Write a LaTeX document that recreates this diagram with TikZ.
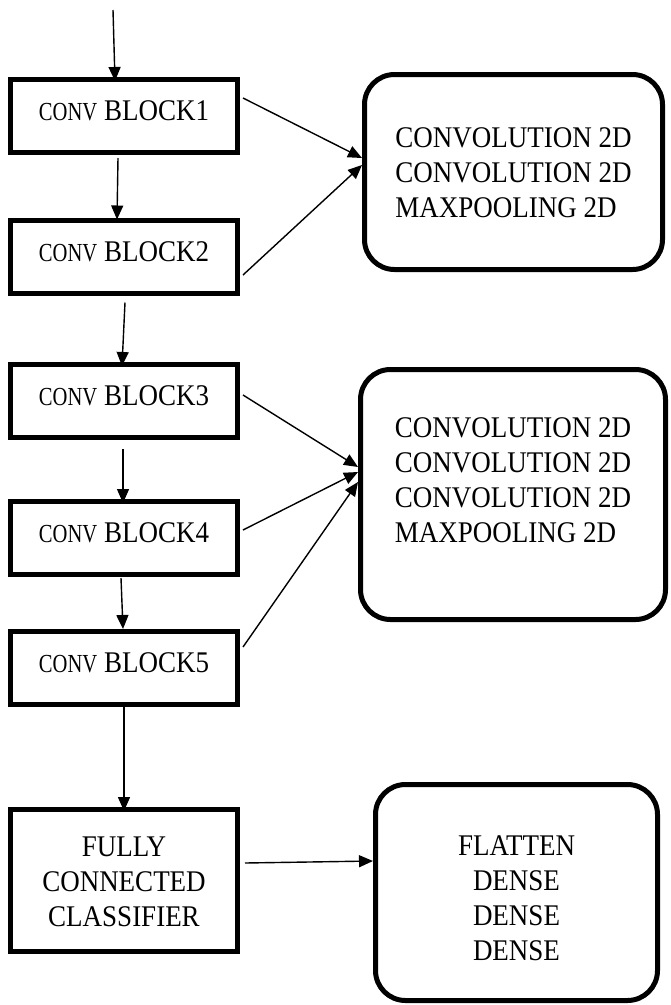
\documentclass[tikz,border=0pt]{standalone}
\usepackage{fontspec}
\setmainfont{Liberation Serif}[FakeStretch=0.9]
\usetikzlibrary{arrows.meta}
\newcommand{\sconv}{\scalebox{0.88}[1]{\fontsize{26}{35}\selectfont CONV}}
\newcommand{\lift}[2]{\raisebox{#1}[\height][\depth]{#2}}
\begin{document}
\begin{tikzpicture}[x=1pt,y=-1pt,
  boxbase/.style={draw,line width=5pt,minimum width=227pt,inner sep=0pt,font=\fontsize{30}{35}\selectfont},
  blk/.style={boxbase,minimum height=73pt,text depth=10pt},
  rbox/.style={draw,line width=5pt,rounded corners=30pt,inner sep=0pt,font=\fontsize{30}{35}\selectfont},
  arr/.style={line width=1.4pt,-{Triangle[length=14pt,width=12pt]}}]
\useasboundingbox (0,0) rectangle (671,1005);

\node[blk] (b1) at (124,116) {\sconv{} BLOCK1};
\node[blk] (b2) at (124,256.5) {\sconv{} BLOCK2};
\node[blk] (b3) at (124,401) {\sconv{} BLOCK3};
\node[blk] (b4) at (124,538) {\sconv{} BLOCK4};
\node[blk] (b5) at (124,668) {\sconv{} BLOCK5};
\node[boxbase,minimum height=142pt] (fc) at (124,880.5)
  {\lift{-4pt}{\begin{tabular}{@{}c@{}}FULLY\\CONNECTED\\CLASSIFIER\end{tabular}}};

\node[rbox,minimum width=298pt,minimum height=195pt] (r1) at (513.5,172)
  {\lift{-3pt}{\begin{tabular}{@{}l@{}}CONVOLUTION 2D\\CONVOLUTION 2D\\MAXPOOLING 2D\end{tabular}}};
\node[rbox,minimum width=305pt,minimum height=250pt] (r2) at (513,494.5)
  {\lift{12pt}{\begin{tabular}{@{}l@{}}CONVOLUTION 2D\\CONVOLUTION 2D\\CONVOLUTION 2D\\MAXPOOLING 2D\end{tabular}}};
\node[rbox,minimum width=282pt,minimum height=216pt] (r3) at (516.5,892.5)
  {\lift{-8pt}{\begin{tabular}{@{}c@{}}FLATTEN\\DENSE\\DENSE\\DENSE\end{tabular}}};

\coordinate (in) at (113,10);
\draw[arr] (in) -- ([xshift=-9pt,yshift=-4pt]b1.north);
\draw[arr] ([shift={(-6pt,-3pt)}]b1.south) -- ([shift={(-7pt,-2pt)}]b2.north);
\draw[arr] ([shift={(1pt,-7pt)}]b2.south) -- ([shift={(-2pt,-4pt)}]b3.north);
\draw[arr] ([shift={(-1pt,-9pt)}]b3.south) -- ([shift={(-1pt,-4pt)}]b4.north);
\draw[arr] ([shift={(-3pt,-1pt)}]b4.south) -- ([shift={(-1pt,0pt)}]b5.north);
\draw[arr] (b5.south) -- ([yshift=-4pt]fc.north);

\draw[arr] ([shift={(3pt,18pt)}]b1.east) -- ([yshift=14pt]r1.west);
\draw[arr] ([shift={(3pt,-18.5pt)}]b2.east) -- ([yshift=7pt]r1.west);
\draw[arr] ([shift={(3pt,6pt)}]b3.east) -- ([yshift=27.5pt]r2.west);
\draw[arr] ([shift={(3pt,8pt)}]b4.east) -- ([yshift=22.5pt]r2.west);
\draw[arr] ([shift={(3pt,21pt)}]b5.east) -- ([yshift=12.5pt]r2.west);
\draw[arr] ([shift={(5pt,17.5pt)}]fc.east) -- ([yshift=31.5pt]r3.west);
\end{tikzpicture}
\end{document}
